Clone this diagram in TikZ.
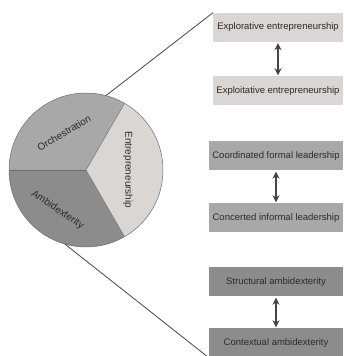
\documentclass[tikz,border=0pt]{standalone}
\usepackage{fontspec}
\setmainfont{Liberation Sans}
\usetikzlibrary{arrows.meta}

\definecolor{lightpart}{HTML}{D9D6D4}
\definecolor{midpart}{HTML}{A8A8A8}
\definecolor{darkpart}{HTML}{8C8C8C}
\definecolor{inktext}{HTML}{2B2B2B}
\definecolor{rimgrey}{HTML}{6E6E6E}
\definecolor{arrowgrey}{HTML}{454545}

\tikzset{
  sector/.style={draw=rimgrey, line width=0.5pt},
  pielabel/.style={text=inktext, font=\fontsize{10}{12}\selectfont, inner sep=0pt},
  box/.style={minimum width=130pt, minimum height=29pt, inner sep=0pt,
              text=inktext, font=\fontsize{9.5}{11}\selectfont},
  lightbox/.style={box, fill=lightpart},
  midbox/.style={box, fill=midpart, minimum width=134pt},
  darkbox/.style={box, fill=darkpart, minimum width=134pt},
  pairarrow/.style={arrowgrey, line width=1.4pt,
     {Stealth[length=7pt,width=7pt]}-{Stealth[length=7pt,width=7pt]},
     shorten <=1pt, shorten >=1pt},
  callout/.style={draw=arrowgrey, line width=0.8pt}
}

\begin{document}
\begin{tikzpicture}[x=1pt,y=1pt]
  \useasboundingbox (0,0) rectangle (343,356);

  % pie centre and radius
  \coordinate (o) at (86,186);
  \def\rad{77}

  % three sectors
  \fill[midpart]  (o) -- ([shift={(o)}]60:\rad)  arc (60:180:\rad)  -- cycle;
  \fill[darkpart] (o) -- ([shift={(o)}]180:\rad) arc (180:300:\rad) -- cycle;
  \fill[lightpart](o) -- ([shift={(o)}]-60:\rad) arc (-60:60:\rad)  -- cycle;
  \draw[sector] (o) circle (\rad);
  \draw[sector] (o) -- ([shift={(o)}]60:\rad);
  \draw[sector] (o) -- ([shift={(o)}]180:\rad);
  \draw[sector] (o) -- ([shift={(o)}]300:\rad);

  % sector labels
  \node[pielabel, rotate=30]  (lorch) at (64,223) {Orchestration};
  \node[pielabel, rotate=-34] (lambi) at (57.5,146) {Ambidexterity};
  \node[pielabel, rotate=-90] (lentr) at (128,186) {Entrepreneurship};

  % boxes
  \node[lightbox] (b1) at (278,328.5) {Explorative entrepreneurship};
  \node[lightbox] (b2) at (278,265)   {Exploitative entrepreneurship};
  \node[midbox]   (b3) at (276,200)   {Coordinated formal leadership};
  \node[midbox]   (b4) at (276,138)   {Concerted informal leadership};
  \node[darkbox]  (b5) at (276,74)    {Structural ambidexterity};
  \node[darkbox]  (b6) at (276,13)    {Contextual ambidexterity};

  % two-way arrows between paired boxes
  \draw[pairarrow] (b1.south) -- (b2.north);
  \draw[pairarrow] (b3.south) -- (b4.north);
  \draw[pairarrow] (b5.south) -- (b6.north);

  % callout lines from the pie to the column of boxes
  \coordinate (ptop) at ([shift={(o)}]75:\rad);
  \coordinate (pbot) at ([shift={(o)}]254:\rad);
  \draw[callout] (ptop) -- (b1.north west);
  \draw[callout] (pbot) -- (b6.south west);
\end{tikzpicture}
\end{document}
